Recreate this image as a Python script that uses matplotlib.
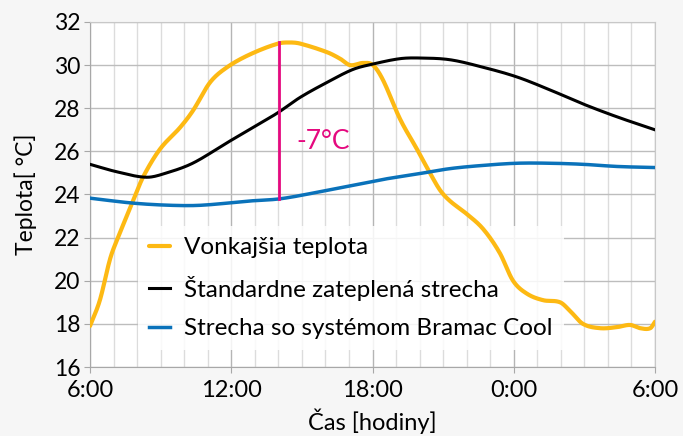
import matplotlib
matplotlib.use("Agg")
import matplotlib.pyplot as plt
import numpy as np

plt.rcParams['font.family'] = ['Lato', 'DejaVu Sans']

# hours after 6:00
out_h = [0, 0.42, 0.85, 1.15, 1.83, 2.25, 2.97, 3.82, 4.38, 5.1, 5.82, 6.8, 7.99, 8.5,
         8.92, 10.07, 10.62, 11.05, 11.6, 12.02, 12.45, 13.17, 13.89, 14.44, 14.87,
         15.29, 16.0, 16.7, 17.4, 17.97, 18.56, 19.24, 19.97, 20.39, 20.94, 21.67, 22.39,
         22.94, 23.37, 23.8, 24.0]
out_t = [17.9, 19.1, 21.0, 21.9, 23.7, 24.8, 26.1, 27.1, 27.9, 29.2, 29.9, 30.5, 31.0, 31.05,
         31.0, 30.6, 30.3, 30.0, 30.1, 30.0, 29.3, 27.5, 26.1, 25.0, 24.2,
         23.7, 23.1, 22.4, 21.3, 20.0, 19.4, 19.1, 19.0, 18.6, 18.0, 17.8, 17.85,
         17.95, 17.8, 17.8, 18.1]

std_h = [0, 1.15, 2.4, 3.25, 4.38, 5.82, 6.92, 7.99, 8.92, 10.07, 11.17, 12.02, 13.17, 14.02,
         15.29, 16.7, 18.14, 19.54, 20.94, 22.39, 24.0]
std_t = [25.4, 25.05, 24.8, 25.0, 25.46, 26.4, 27.1, 27.8, 28.5, 29.2, 29.8, 30.05, 30.3, 30.33,
         30.25, 29.9, 29.45, 28.85, 28.2, 27.6, 27.0]

cool_h = [0, 1.83, 3.4, 4.7, 6.8, 8.07, 9.64, 11.05, 12.45, 13.89, 15.29, 16.7, 18.14, 19.54,
          20.94, 22.39, 24.0]
cool_t = [23.83, 23.6, 23.5, 23.5, 23.7, 23.8, 24.1, 24.4, 24.7, 24.95, 25.2, 25.35, 25.45, 25.45,
          25.4, 25.3, 25.25]

labels = ['Vonkajšia teplota', 'Štandardne zateplená strecha', 'Strecha so systémom Bramac Cool']
xticks = [0, 6, 12, 18, 24]
xticklabels = ['6:00', '12:00', '18:00', '0:00', '6:00']
diff_h = 8.03
diff_top, diff_bot = 31.05, 23.8
diff_label = '-7°C'

def smooth(x, y, n=24):
    # cubic Hermite curve through the read points (drawing only)
    x = np.asarray(x, float); y = np.asarray(y, float)
    m = np.empty_like(y)
    m[1:-1] = (y[2:] - y[:-2]) / (x[2:] - x[:-2])
    m[0] = (y[1] - y[0]) / (x[1] - x[0])
    m[-1] = (y[-1] - y[-2]) / (x[-1] - x[-2])
    xs, ys = [], []
    for i in range(len(x) - 1):
        h = x[i+1] - x[i]
        t = np.linspace(0, 1, n, endpoint=False)
        h00 = 2*t**3 - 3*t**2 + 1
        h10 = t**3 - 2*t**2 + t
        h01 = -2*t**3 + 3*t**2
        h11 = t**3 - t**2
        xs.append(x[i] + t*h)
        ys.append(h00*y[i] + h10*h*m[i] + h01*y[i+1] + h11*h*m[i+1])
    xs.append([x[-1]]); ys.append([y[-1]])
    return np.concatenate(xs), np.concatenate(ys)

fig = plt.figure(figsize=(6.83, 4.36), dpi=100, facecolor='#f6f6f6')
ax = fig.add_axes([90/683, (436-367)/436, 565/683, 345/436])
ax.set_facecolor('white')

ax.set_xlim(0, 24)
ax.set_ylim(16, 32)
ax.set_xticks(xticks)
ax.set_xticklabels(xticklabels)
ax.set_xticks(np.arange(0, 25, 1), minor=True)
ax.set_yticks(np.arange(16, 33, 2))

ax.grid(which='major', axis='y', color='#bdbdbd', lw=1.0)
ax.grid(which='major', axis='x', color='#b5b5b5', lw=1.0)
ax.grid(which='minor', axis='x', color='#dcdcdc', lw=1.0)
ax.set_axisbelow(True)

for s in ['top', 'right']:
    ax.spines[s].set_color('#c8c8c8')
for s in ['left', 'bottom']:
    ax.spines[s].set_color('#a8a8a8')
ax.tick_params(which='major', length=4, color='#a8a8a8')
ax.tick_params(axis='x', labelsize=17, pad=5)
ax.tick_params(axis='y', labelsize=16.5, pad=3)
ax.tick_params(which='minor', length=0)

c_out, c_std, c_cool = '#fdb913', '#000000', '#0a72ba'
x, y = smooth(out_h, out_t)
ax.plot(x, y, color=c_out, lw=3.0, label=labels[0], solid_capstyle='round', zorder=3)
x, y = smooth(std_h, std_t)
ax.plot(x, y, color=c_std, lw=2.2, label=labels[1], zorder=3)
x, y = smooth(cool_h, cool_t)
ax.plot(x, y, color=c_cool, lw=2.5, label=labels[2], zorder=3)

ax.plot([diff_h, diff_h], [diff_bot, diff_top], color='#e5097f', lw=2.0, zorder=4)
ax.text(diff_h + 0.72, 26.45, diff_label, color='#e5097f', fontsize=19, va='center', ha='left')

leg = ax.legend(loc='lower left', bbox_to_anchor=(0.085, 0.049), fontsize=17.5,
                frameon=True, fancybox=False, framealpha=0.85, facecolor='white',
                edgecolor='none', handlelength=0.85, handletextpad=0.6,
                labelspacing=0.72, borderpad=0.45, borderaxespad=0)
leg.set_zorder(2.5)

ax.set_ylabel('Teplota[ °C]', fontsize=16.5, labelpad=12)
ax.set_xlabel('Čas [hodiny]', fontsize=17, labelpad=6)

fig.savefig('out.png', dpi=100, facecolor=fig.get_facecolor())
